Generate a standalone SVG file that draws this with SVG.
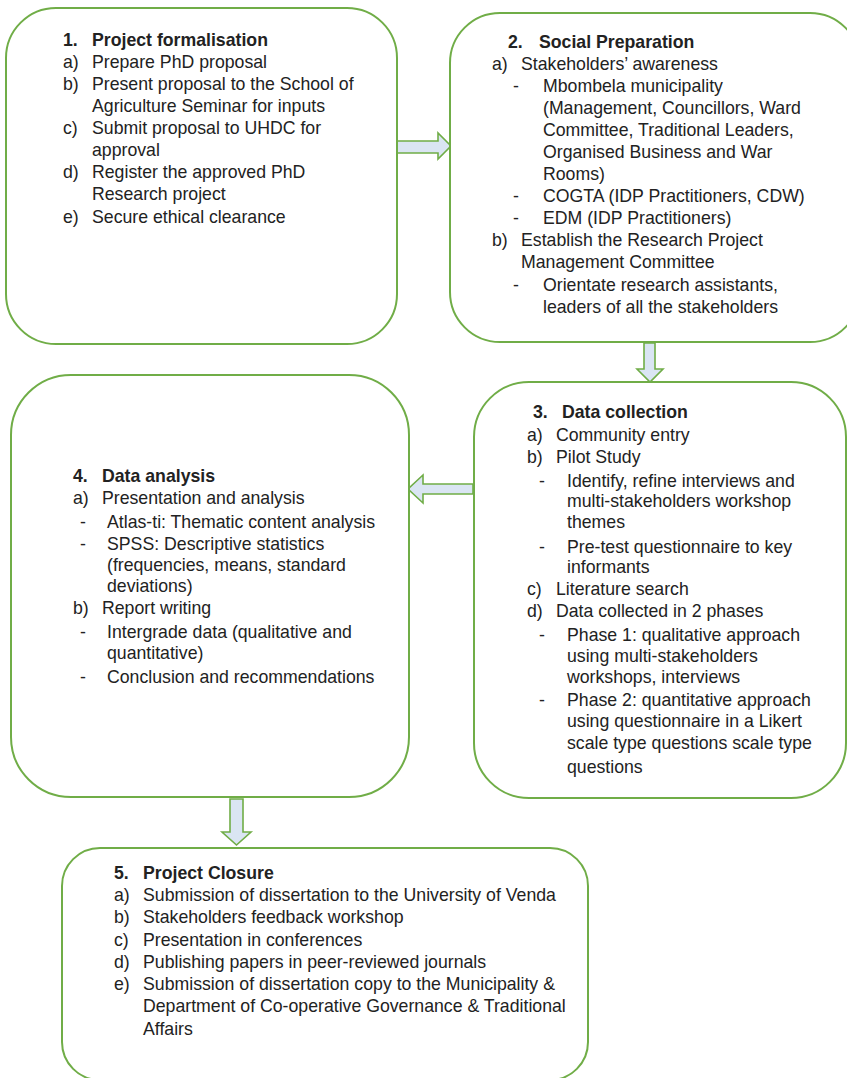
<svg xmlns="http://www.w3.org/2000/svg" width="847" height="1078" viewBox="0 0 847 1078">
<style>
.box{fill:#fff;stroke:#70ad47;stroke-width:2}
.arr{fill:#dae5f3;stroke:#70ad47;stroke-width:1.6;stroke-linejoin:miter}
text{font-family:"Liberation Sans",Arial,sans-serif;font-size:17.7px;fill:#222}
.b{font-weight:bold}
</style>
<rect width="847" height="1078" fill="#fff"/>
<g id="connectors">
<polygon class="arr" points="396,141 438,141 438,133 451,146 438,159 438,153 396,153"/>
<polygon class="arr" points="644,343 655,343 655,369 663,369 650,382 637,369 644,369"/>
<polygon class="arr" points="473,484 423,484 423,475 408,489 423,503 423,494 473,494"/>
<polygon class="arr" points="230,799 243,799 243,832 251,832 236.5,845 222,832 230,832"/>
</g>
<g id="node1">
<rect class="box" x="6" y="8" width="391" height="336" rx="50"/>
<text class="b" x="63" y="46">1.</text><text class="b" x="92" y="46">Project formalisation</text>
<text x="63" y="68">a)</text><text x="92" y="68">Prepare PhD proposal</text>
<text x="63" y="90">b)</text><text x="92" y="90">Present proposal to the School of</text>
<text x="92" y="112">Agriculture Seminar for inputs</text>
<text x="63" y="134">c)</text><text x="92" y="134">Submit proposal to UHDC for</text>
<text x="92" y="156">approval</text>
<text x="63" y="178">d)</text><text x="92" y="178">Register the approved PhD</text>
<text x="92" y="200">Research project</text>
<text x="63" y="223">e)</text><text x="92" y="223">Secure ethical clearance</text>
</g>
<g id="node2">
<rect class="box" x="450" y="13" width="410" height="329" rx="50"/>
<text class="b" x="508" y="48">2.</text><text class="b" x="539" y="48">Social Preparation</text>
<text x="492" y="70">a)</text><text x="521" y="70">Stakeholders’ awareness</text>
<text x="513" y="92">-</text><text x="543" y="92">Mbombela municipality</text>
<text x="543" y="114">(Management, Councillors, Ward</text>
<text x="543" y="136">Committee, Traditional Leaders,</text>
<text x="543" y="158">Organised Business and War</text>
<text x="543" y="180">Rooms)</text>
<text x="513" y="202">-</text><text x="543" y="202">COGTA (IDP Practitioners, CDW)</text>
<text x="513" y="224">-</text><text x="543" y="224">EDM (IDP Practitioners)</text>
<text x="492" y="246">b)</text><text x="521" y="246">Establish the Research Project</text>
<text x="521" y="268">Management Committee</text>
<text x="513" y="291">-</text><text x="543" y="291">Orientate research assistants,</text>
<text x="543" y="313">leaders of all the stakeholders</text>
</g>
<g id="node3">
<rect class="box" x="474" y="382" width="372" height="416" rx="55"/>
<text class="b" x="533" y="418">3.</text><text class="b" x="562" y="418">Data collection</text>
<text x="527" y="441">a)</text><text x="556" y="441">Community entry</text>
<text x="527" y="463">b)</text><text x="556" y="463">Pilot Study</text>
<text x="539" y="487">-</text><text x="567" y="487">Identify, refine interviews and</text>
<text x="567" y="507">multi-stakeholders workshop</text>
<text x="567" y="528">themes</text>
<text x="539" y="553">-</text><text x="567" y="553">Pre-test questionnaire to key</text>
<text x="567" y="573">informants</text>
<text x="527" y="595">c)</text><text x="556" y="595">Literature search</text>
<text x="527" y="617">d)</text><text x="556" y="617">Data collected in 2 phases</text>
<text x="539" y="641">-</text><text x="567" y="641">Phase 1: qualitative approach</text>
<text x="567" y="662">using multi-stakeholders</text>
<text x="567" y="683">workshops, interviews</text>
<text x="539" y="706">-</text><text x="567" y="706">Phase 2: quantitative approach</text>
<text x="567" y="727">using questionnaire in a Likert</text>
<text x="567" y="749">scale type questions scale type</text>
<text x="567" y="773">questions</text>
</g>
<g id="node4">
<rect class="box" x="11" y="375" width="398" height="422" rx="60"/>
<text class="b" x="73" y="482">4.</text><text class="b" x="102" y="482">Data analysis</text>
<text x="73" y="504">a)</text><text x="102" y="504">Presentation and analysis</text>
<text x="80" y="528">-</text><text x="107" y="528">Atlas-ti: Thematic content analysis</text>
<text x="80" y="550">-</text><text x="107" y="550">SPSS: Descriptive statistics</text>
<text x="107" y="571">(frequencies, means, standard</text>
<text x="107" y="592">deviations)</text>
<text x="73" y="614">b)</text><text x="102" y="614">Report writing</text>
<text x="80" y="638">-</text><text x="107" y="638">Intergrade data (qualitative and</text>
<text x="107" y="659">quantitative)</text>
<text x="80" y="683">-</text><text x="107" y="683">Conclusion and recommendations</text>
</g>
<g id="node5">
<rect class="box" x="62" y="848" width="526" height="232" rx="38"/>
<text class="b" x="114" y="879">5.</text><text class="b" x="143" y="879">Project Closure</text>
<text x="114" y="901">a)</text><text x="143" y="901">Submission of dissertation to the University of Venda</text>
<text x="114" y="923">b)</text><text x="143" y="923">Stakeholders feedback workshop</text>
<text x="114" y="946">c)</text><text x="143" y="946">Presentation in conferences</text>
<text x="114" y="968">d)</text><text x="143" y="968">Publishing papers in peer-reviewed journals</text>
<text x="114" y="990">e)</text><text x="143" y="990">Submission of dissertation copy to the Municipality &amp;</text>
<text x="143" y="1012">Department of Co-operative Governance &amp; Traditional</text>
<text x="143" y="1035">Affairs</text>
</g>
</svg>
